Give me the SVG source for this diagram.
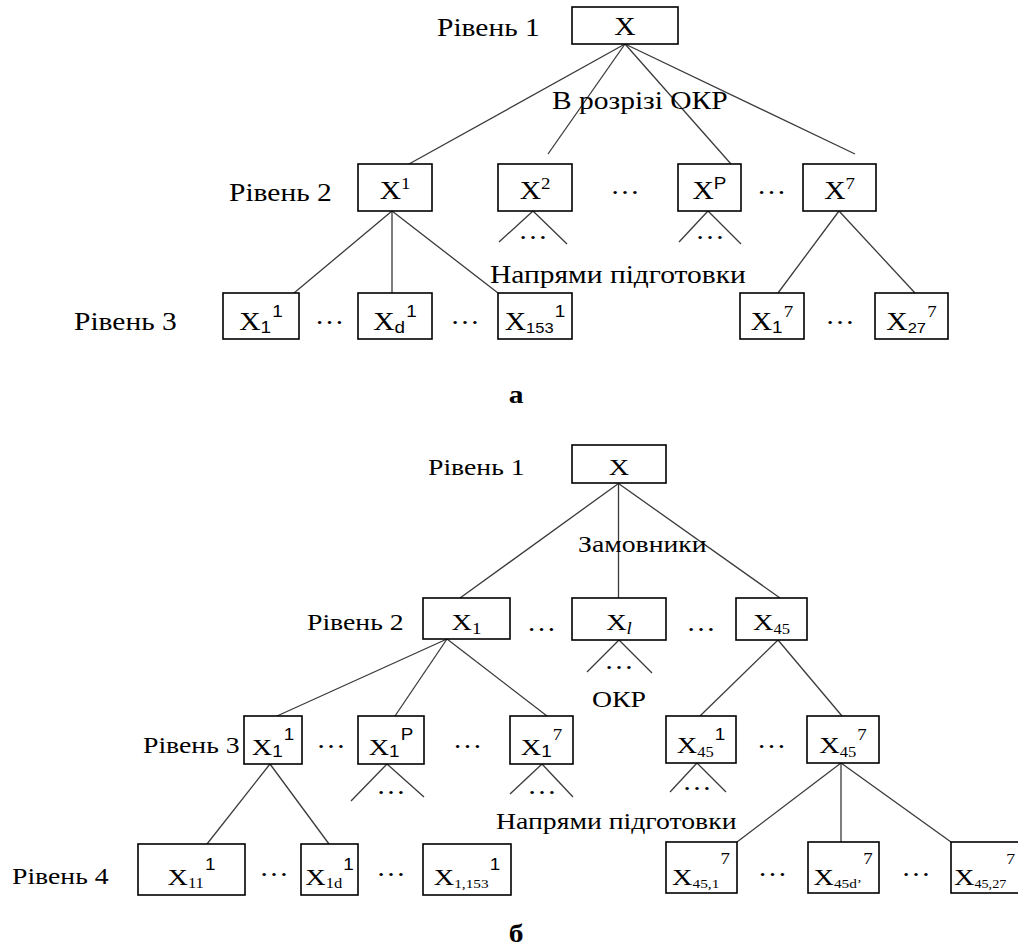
<svg xmlns="http://www.w3.org/2000/svg" width="1018" height="950" viewBox="0 0 1018 950">
<style>
text{font-family:"Liberation Serif","Times New Roman",serif;fill:#000}
.L{font-size:25px}
.L2{font-size:23.5px}
.N{font-size:25px;text-anchor:middle}
.N2{font-size:24px;text-anchor:middle}
.D{font-size:25px;text-anchor:middle}
.s{font-family:"Liberation Serif","Times New Roman",serif;font-size:16px}
.s2{font-family:"Liberation Serif","Times New Roman",serif;font-size:14px}
.s3{font-family:"Liberation Serif","Times New Roman",serif;font-size:13px}
.a{font-family:"Liberation Sans",Arial,sans-serif;font-size:16px}
.a2{font-family:"Liberation Sans",Arial,sans-serif;font-size:14px}
.B{font-size:25px;font-weight:bold;text-anchor:middle}
rect{fill:#fff;stroke:#000;stroke-width:1.6}
#connectors line{stroke:#3a3a3a;stroke-width:1.3}
</style>
<rect x="0" y="0" width="1018" height="950" style="fill:#fff;stroke:none"/>

<g id="connectors">
<line x1="625" y1="44" x2="409" y2="164"/>
<line x1="625" y1="44" x2="548" y2="154"/>
<line x1="625" y1="44" x2="731" y2="164"/>
<line x1="625" y1="44" x2="855" y2="154"/>
<line x1="533" y1="211" x2="499" y2="242"/>
<line x1="533" y1="211" x2="567" y2="244"/>
<line x1="708" y1="211" x2="679" y2="242"/>
<line x1="708" y1="211" x2="741" y2="244"/>
<line x1="839" y1="211" x2="778" y2="293"/>
<line x1="839" y1="211" x2="915" y2="293"/>
<line x1="392" y1="211" x2="294" y2="293"/>
<line x1="392" y1="211" x2="392" y2="293"/>
<line x1="392" y1="211" x2="498" y2="293"/>
<line x1="618.5" y1="483.5" x2="460" y2="598"/>
<line x1="618.5" y1="483.5" x2="618.5" y2="598"/>
<line x1="618.5" y1="483.5" x2="780" y2="598"/>
<line x1="619" y1="640" x2="587" y2="672"/>
<line x1="619" y1="640" x2="652" y2="673"/>
<line x1="778" y1="640" x2="700" y2="716"/>
<line x1="778" y1="640" x2="842" y2="716"/>
<line x1="447" y1="639" x2="277" y2="716"/>
<line x1="447" y1="639" x2="395" y2="716"/>
<line x1="447" y1="639" x2="547" y2="716"/>
<line x1="270" y1="764" x2="207" y2="844"/>
<line x1="270" y1="764" x2="329" y2="844"/>
<line x1="387" y1="764" x2="351" y2="801"/>
<line x1="387" y1="764" x2="424" y2="797"/>
<line x1="542" y1="764" x2="510" y2="794"/>
<line x1="542" y1="764" x2="573" y2="797"/>
<line x1="697" y1="763" x2="670" y2="792"/>
<line x1="697" y1="763" x2="726" y2="792"/>
<line x1="841" y1="763" x2="737" y2="842"/>
<line x1="841" y1="763" x2="841" y2="842"/>
<line x1="841" y1="763" x2="951" y2="842"/>
</g>

<g id="labels-a">
<text class="L" transform="translate(437,36) scale(1.18,1)">Рівень 1</text>
<text class="L" transform="translate(229,201) scale(1.18,1)">Рівень 2</text>
<text class="L" transform="translate(74,330) scale(1.18,1)">Рівень 3</text>
<text class="L" transform="translate(552,109) scale(1.18,1)">В розрізі ОКР</text>
<text class="L" transform="translate(490,283) scale(1.18,1)">Напрями підготовки</text>
<text class="D" transform="translate(625,194) scale(1.18,1)">…</text>
<text class="D" transform="translate(771.5,194) scale(1.18,1)">…</text>
<text class="D" transform="translate(533,239) scale(1.18,1)">…</text>
<text class="D" transform="translate(710,239) scale(1.18,1)">…</text>
<text class="D" transform="translate(329.5,324) scale(1.18,1)">…</text>
<text class="D" transform="translate(465,324) scale(1.18,1)">…</text>
<text class="D" transform="translate(840,324) scale(1.18,1)">…</text>
<text class="B" transform="translate(516,403) scale(1.18,1)">а</text>
</g>

<g id="a-X"><rect x="572" y="7" width="106" height="37"/><text class="N" transform="translate(625,35) scale(1.18,1)">X</text></g>
<g id="a-X1"><rect x="358" y="164" width="74" height="47"/><text class="N" transform="translate(395,199) scale(1.18,1)">X<tspan class="s" dy="-10">1</tspan></text></g>
<g id="a-X2"><rect x="498" y="164" width="74" height="47"/><text class="N" transform="translate(535,199) scale(1.18,1)">X<tspan class="s" dy="-10">2</tspan></text></g>
<g id="a-XP"><rect x="678" y="164" width="63" height="47"/><text class="N" transform="translate(709.5,199) scale(1.18,1)">X<tspan class="a" dy="-10">P</tspan></text></g>
<g id="a-X7"><rect x="803" y="164" width="73" height="47"/><text class="N" transform="translate(839.5,199) scale(1.18,1)">X<tspan class="s" dy="-10">7</tspan></text></g>
<g id="a-X1-1"><rect x="223" y="293" width="76" height="46"/><text class="N" transform="translate(261,330) scale(1.18,1)">X<tspan class="a" dy="3">1</tspan><tspan class="a" dx="1" dy="-16">1</tspan></text></g>
<g id="a-Xd-1"><rect x="358" y="293" width="74" height="46"/><text class="N" transform="translate(395,330) scale(1.18,1)">X<tspan class="a" dy="3">d</tspan><tspan class="a" dx="1" dy="-16">1</tspan></text></g>
<g id="a-X153-1"><rect x="498" y="293" width="74" height="46"/><text class="N" transform="translate(535,330) scale(1.18,1)">X<tspan class="a2" dy="3">153</tspan><tspan class="a" dx="1" dy="-16">1</tspan></text></g>
<g id="a-X1-7"><rect x="740" y="293" width="64" height="46"/><text class="N" transform="translate(772,330) scale(1.18,1)">X<tspan class="a" dy="3">1</tspan><tspan class="s" dx="1" dy="-16">7</tspan></text></g>
<g id="a-X27-7"><rect x="875" y="293" width="73" height="46"/><text class="N" transform="translate(911.5,330) scale(1.18,1)">X<tspan class="a2" dy="3">27</tspan><tspan class="s" dx="1" dy="-16">7</tspan></text></g>

<g id="labels-b">
<text class="L2" transform="translate(428,475) scale(1.18,1)">Рівень 1</text>
<text class="L2" transform="translate(307,630) scale(1.18,1)">Рівень 2</text>
<text class="L2" transform="translate(143,753) scale(1.18,1)">Рівень 3</text>
<text class="L2" transform="translate(12,884) scale(1.18,1)">Рівень 4</text>
<text class="L2" transform="translate(578,552) scale(1.18,1)">Замовники</text>
<text class="L2" transform="translate(592,707) scale(1.18,1)">ОКР</text>
<text class="L2" transform="translate(496,829) scale(1.18,1)">Напрями підготовки</text>
<text class="D" transform="translate(541.5,631) scale(1.18,1)">…</text>
<text class="D" transform="translate(701,631) scale(1.18,1)">…</text>
<text class="D" transform="translate(619,669) scale(1.18,1)">…</text>
<text class="D" transform="translate(331,748) scale(1.18,1)">…</text>
<text class="D" transform="translate(467.5,748) scale(1.18,1)">…</text>
<text class="D" transform="translate(771.5,748) scale(1.18,1)">…</text>
<text class="D" transform="translate(391,794) scale(1.18,1)">…</text>
<text class="D" transform="translate(542,794) scale(1.18,1)">…</text>
<text class="D" transform="translate(697,790) scale(1.18,1)">…</text>
<text class="D" transform="translate(274,876) scale(1.18,1)">…</text>
<text class="D" transform="translate(391,876) scale(1.18,1)">…</text>
<text class="D" transform="translate(772.5,876) scale(1.18,1)">…</text>
<text class="D" transform="translate(916,876) scale(1.18,1)">…</text>
<text class="B" transform="translate(516,942) scale(1.18,1)">б</text>
</g>

<g id="b-X"><rect x="572" y="445" width="94" height="38"/><text class="N2" transform="translate(619,475) scale(1.18,1)">X</text></g>
<g id="b-X1"><rect x="423" y="598" width="87" height="41"/><text class="N2" transform="translate(466.5,630) scale(1.18,1)">X<tspan class="s" dy="4">1</tspan></text></g>
<g id="b-Xl"><rect x="572" y="598" width="94" height="42"/><text class="N2" transform="translate(619,630) scale(1.18,1)">X<tspan class="s" dy="4" font-style="italic">l</tspan></text></g>
<g id="b-X45"><rect x="736" y="598" width="71" height="42"/><text class="N2" transform="translate(771.5,630) scale(1.18,1)">X<tspan class="s2" dy="4">45</tspan></text></g>
<g id="b-X1-1"><rect x="244" y="716" width="58" height="48"/><text class="N2" transform="translate(273,755) scale(1.18,1)">X<tspan class="a" dy="2">1</tspan><tspan class="a" dx="1" dy="-17">1</tspan></text></g>
<g id="b-X1-P"><rect x="358" y="716" width="66" height="48"/><text class="N2" transform="translate(391,755) scale(1.18,1)">X<tspan class="a" dy="2">1</tspan><tspan class="a" dx="1" dy="-17">P</tspan></text></g>
<g id="b-X1-7"><rect x="510" y="716" width="63" height="48"/><text class="N2" transform="translate(541.5,755) scale(1.18,1)">X<tspan class="a" dy="2">1</tspan><tspan class="s" dx="1" dy="-17">7</tspan></text></g>
<g id="b-X45-1"><rect x="666" y="716" width="70" height="47"/><text class="N2" transform="translate(701,753) scale(1.18,1)">X<tspan class="s2" dy="4">45</tspan><tspan class="a" dx="1" dy="-17">1</tspan></text></g>
<g id="b-X45-7"><rect x="807" y="716" width="72" height="47"/><text class="N2" transform="translate(843,753) scale(1.18,1)">X<tspan class="s2" dy="4">45</tspan><tspan class="s" dx="1" dy="-17">7</tspan></text></g>
<g id="b-X11-1"><rect x="138" y="844" width="107" height="51"/><text class="N2" transform="translate(191.5,885) scale(1.18,1)">X<tspan class="s2" dy="3">11</tspan><tspan class="a" dx="1" dy="-18">1</tspan></text></g>
<g id="b-X1d-1"><rect x="301" y="844" width="57" height="51"/><text class="N2" transform="translate(329.5,885) scale(1.18,1)">X<tspan class="s2" dy="3">1d</tspan><tspan class="a" dx="1" dy="-18">1</tspan></text></g>
<g id="b-X1153-1"><rect x="423" y="844" width="88" height="51"/><text class="N2" transform="translate(467,885) scale(1.18,1)">X<tspan class="s3" dy="3">1,153</tspan><tspan class="a" dx="1" dy="-18">1</tspan></text></g>
<g id="b-X451-7"><rect x="666" y="842" width="71" height="51"/><text class="N2" transform="translate(701,885) scale(1.18,1)">X<tspan class="s3" dy="3">45,1</tspan><tspan class="s" dx="1" dy="-24">7</tspan></text></g>
<g id="b-X45d-7"><rect x="808" y="842" width="71" height="51"/><text class="N2" transform="translate(843,885) scale(1.18,1)">X<tspan class="s3" dy="3">45d’</tspan><tspan class="s" dx="1" dy="-24">7</tspan></text></g>
<g id="b-X4527-7"><rect x="951" y="842" width="80" height="51"/><text class="N2" style="text-anchor:start" transform="translate(954,885) scale(1.18,1)">X<tspan class="s3" style="font-size:12px" dy="3">45,27</tspan><tspan class="s" style="font-size:15px" dx="0" dy="-24">7</tspan></text></g>
</svg>
